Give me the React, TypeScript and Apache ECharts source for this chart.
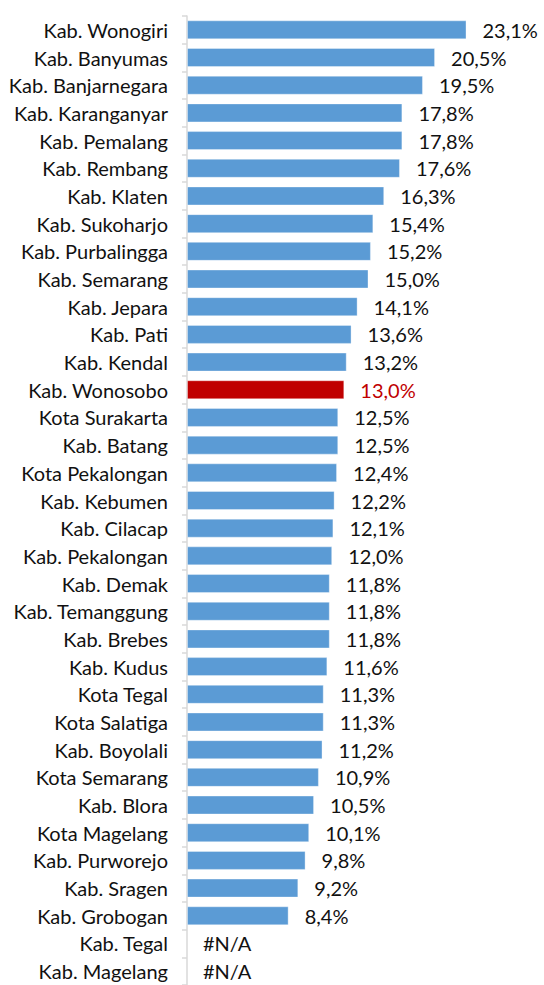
import React, { useEffect, useRef } from "react";
import * as echarts from "echarts";

const categories: string[] = [
  "Kab. Wonogiri", "Kab. Banyumas", "Kab. Banjarnegara", "Kab. Karanganyar", "Kab. Pemalang",
  "Kab. Rembang", "Kab. Klaten", "Kab. Sukoharjo", "Kab. Purbalingga", "Kab. Semarang",
  "Kab. Jepara", "Kab. Pati", "Kab. Kendal", "Kab. Wonosobo", "Kota Surakarta",
  "Kab. Batang", "Kota Pekalongan", "Kab. Kebumen", "Kab. Cilacap", "Kab. Pekalongan",
  "Kab. Demak", "Kab. Temanggung", "Kab. Brebes", "Kab. Kudus", "Kota Tegal",
  "Kota Salatiga", "Kab. Boyolali", "Kota Semarang", "Kab. Blora", "Kota Magelang",
  "Kab. Purworejo", "Kab. Sragen", "Kab. Grobogan", "Kab. Tegal", "Kab. Magelang",
];

const values: (number | null)[] = [
  23.1, 20.5, 19.5, 17.8, 17.8,
  17.6, 16.3, 15.4, 15.2, 15.0,
  14.1, 13.6, 13.2, 13.0, 12.5,
  12.5, 12.4, 12.2, 12.1, 12.0,
  11.8, 11.8, 11.8, 11.6, 11.3,
  11.3, 11.2, 10.9, 10.5, 10.1,
  9.8, 9.2, 8.4, null, null,
];

const highlighted = "Kab. Wonosobo";
const missingLabel = "#N/A";

const FONT = "Lato";
const FONT_SIZE = 20;

export default function App() {
  const ref = useRef<HTMLDivElement>(null);

  useEffect(() => {
    if (!ref.current) return;
    const chart = echarts.init(ref.current, null, { renderer: "svg" });

    const data = values.map((v, i) => {
      const isHi = categories[i] === highlighted;
      if (v === null) {
        return {
          value: 0,
          itemStyle: { color: "rgba(0,0,0,0)", borderWidth: 0 },
          label: { formatter: missingLabel },
        };
      }
      return {
        value: v,
        itemStyle: isHi ? { color: "#C00000" } : undefined,
        label: isHi ? { color: "#C00000" } : undefined,
      };
    });

    chart.setOption({
      animation: false,
      grid: { left: 187, top: 16, width: 302.5, height: 973.8 },
      xAxis: {
        type: "value",
        min: 0,
        max: 25,
        show: false,
      },
      yAxis: {
        type: "category",
        inverse: true,
        data: categories,
        axisLine: { show: true, lineStyle: { color: "#d9d9d9", width: 1.5 } },
        axisTick: { show: true, length: 5, lineStyle: { color: "#d9d9d9", width: 1.5 } },
        axisLabel: {
          margin: 19,
          color: "#111",
          fontFamily: FONT,
          fontSize: FONT_SIZE,
          interval: 0,
        },
      },
      series: [
        {
          type: "bar",
          data,
          barWidth: 19,
          itemStyle: { color: "#5B9BD5", borderColor: "rgba(255,255,255,0.35)", borderWidth: 1 },
          label: {
            show: true,
            position: "right",
            distance: 16,
            color: "#111",
            fontFamily: FONT,
            fontSize: FONT_SIZE,
            formatter: (p: any) => Number(p.value).toFixed(1).replace(".", ",") + "%",
          },
        },
      ],
    });

    return () => chart.dispose();
  }, []);

  return (
    <div
      ref={ref}
      style={{ position: "absolute", left: 0, top: 0, width: 544, height: 985 }}
    />
  );
}
